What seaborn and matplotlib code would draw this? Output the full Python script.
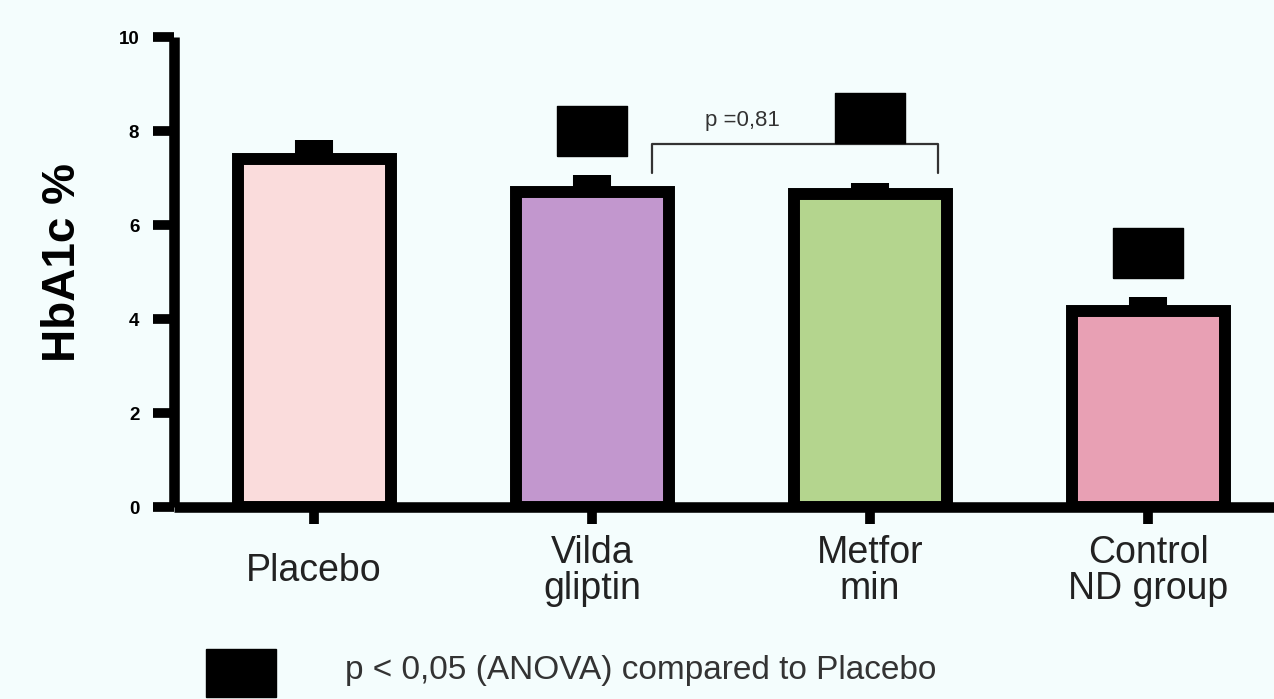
import matplotlib
matplotlib.use("Agg")
import matplotlib.pyplot as plt
from matplotlib.patches import Rectangle
import seaborn as sns
import pandas as pd

# ── Data ──────────────────────────────────────────────────────────────────────
groups = ["Placebo", "Vilda\ngliptin", "Metfor\nmin", "Control\nND group"]
hba1c = [7.40, 6.70, 6.66, 4.17]
sem = [0.40, 0.36, 0.23, 0.30]
colors = ["#fadcdc", "#c297ce", "#b4d58e", "#e8a0b4"]

# groups marked p < 0.05 vs placebo, and height of the marker
sig_groups = [1, 2, 3]
sig_marker_y = [8.01, 8.27, 5.40]

# Vildagliptin vs Metformin comparison
bracket_x = [1.216, 2.245]
bracket_y = 7.72
bracket_leg_y = 7.10
bracket_text = "p =0,81"

legend_text = "p < 0,05 (ANOVA) compared to Placebo"

df = pd.DataFrame({"group": groups, "hba1c": hba1c})

# ── Style ─────────────────────────────────────────────────────────────────────
sns.set_theme(style="white")
plt.rcParams["font.family"] = ["Liberation Sans", "DejaVu Sans"]

BG = "#f4fdfd"
LW = 8.6
fig = plt.figure(figsize=(12.74, 6.99), dpi=100, facecolor=BG)
ax = fig.add_axes([174 / 1274, 192 / 699, 1141 / 1274, 470 / 699])
ax.set_facecolor("none")

sns.barplot(data=df, x="group", y="hba1c", hue="group", palette=colors,
            legend=False, width=0.55, edgecolor="black", linewidth=LW,
            saturation=1, ax=ax, zorder=3)

# thick error stubs (mean -> mean + SEM)
eb = ax.errorbar(range(len(groups)), hba1c, yerr=[[0] * len(sem), sem],
                 fmt="none", ecolor="black", elinewidth=27.4, capsize=0, zorder=2)
eb[2][0].set_capstyle("butt")

# significance markers
rect = [(-0.7, -0.5), (0.7, -0.5), (0.7, 0.5), (-0.7, 0.5), (-0.7, -0.5)]
ax.plot(sig_groups, sig_marker_y, ls="none", marker=rect, ms=50.4,
        color="black", zorder=5, clip_on=False)

# bracket
ax.plot([bracket_x[0], bracket_x[0], bracket_x[1], bracket_x[1]],
        [bracket_leg_y, bracket_y, bracket_y, bracket_leg_y],
        color="#333333", lw=1.6, zorder=4)
ax.text(sum(bracket_x) / 2 - 0.19, bracket_y + 0.5, bracket_text,
        ha="center", va="center", fontsize=16, color="#333333")

# ── Axes ──────────────────────────────────────────────────────────────────────
ax.set_xlim(-0.504, 3.6)
ax.set_ylim(0, 10)
ax.set_yticks([0, 2, 4, 6, 8, 10])
for side in ["top", "right"]:
    ax.spines[side].set_visible(False)
for side in ["left", "bottom"]:
    ax.spines[side].set_linewidth(7.6)
    ax.spines[side].set_color("black")
    ax.spines[side].set_capstyle("butt")

ax.tick_params(axis="y", direction="out", length=15, width=7, pad=10,
               labelsize=13.5, colors="black", left=True)
ax.tick_params(axis="x", direction="out", length=12, width=7, pad=34,
               labelsize=27, colors="black", labelcolor="#222222", bottom=True)
for lbl in ax.get_yticklabels():
    lbl.set_fontweight("bold")
for lbl in ax.get_xticklabels():
    lbl.set_va("center")
    lbl.set_linespacing(1.0)

ax.set_xlabel("")
ax.set_ylabel("HbA1c %", fontsize=33, fontweight="bold", color="black")
ax.yaxis.set_label_coords(-0.078, 0.52)

# ── Legend ────────────────────────────────────────────────────────────────────
fig.add_artist(Rectangle((206 / 1274, 2 / 699), 70 / 1274, 48 / 699,
                         transform=fig.transFigure, color="black"))
fig.text(345 / 1274, 1 - 670 / 699, legend_text, ha="left", va="center",
         fontsize=24, color="#333333")

fig.savefig("out.png", dpi=100, facecolor=BG)
